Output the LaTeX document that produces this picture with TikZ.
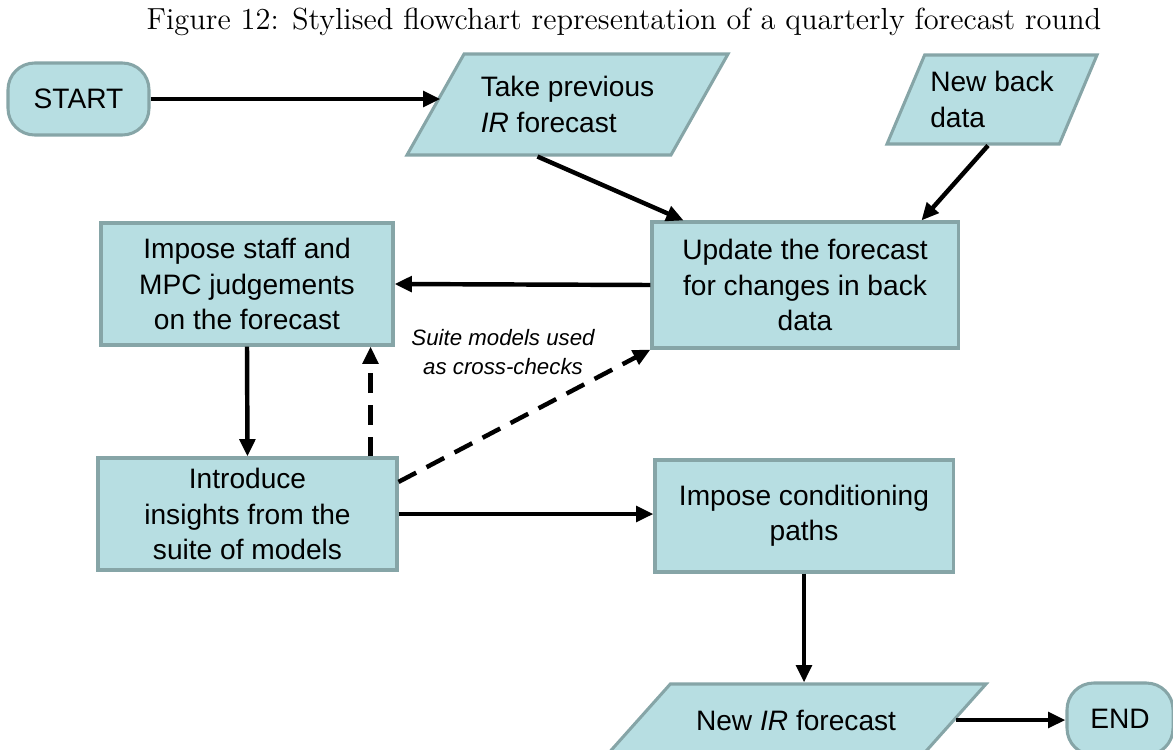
\documentclass[tikz,border=0pt]{standalone}
\usepackage{fontspec}
\newfontfamily\boxfont{Liberation Sans}
\usetikzlibrary{shapes.geometric,arrows.meta}
\definecolor{boxfill}{RGB}{183,222,226}
\definecolor{boxline}{RGB}{134,165,167}
\begin{document}
\begin{tikzpicture}[x = .015cm, y = -.015cm,
    box/.style = {draw = boxline, fill = boxfill, line width = 1.3pt, align = center,
      font = \boxfont\fontsize{12}{15}\selectfont, inner sep = 2pt},
    endbox/.style = {box, rounded corners = .4cm, minimum width = #1, minimum height = 1.08cm},
    para/.style = {box, trapezium, trapezium stretches body = true, align = left,
      trapezium left angle = #1, trapezium right angle = 180-#1},
    arr/.style = {-{Triangle[length = .26cm, width = .23cm]}, line width = 1.9pt},
    dasharr/.style = {arr, dash pattern = on 8.5pt off 5pt}]
    \useasboundingbox (0,0) rectangle (1173,749);
    \node (title) at (624,22) {\fontsize{13}{15}\selectfont Figure 12: Stylised flowchart representation of a quarterly forecast round};
    % top row
    \node [endbox = 2.115cm] (start) at (78.5,99) {START};
    \node [para = 48.8, minimum width = 4.815cm, minimum height = 1.515cm] (take) at (567.5,104.5) {Take previous\\\textit{IR} forecast};
    \node [para = 60, minimum width = 3.15cm, minimum height = 1.335cm] (back) at (992,99.5) {New back\\data};
    % middle
    \node [box, minimum width = 4.38cm, minimum height = 1.83cm] (imp) at (247,284) {Impose staff and\\MPC judgements\\on the forecast};
    \node [box, minimum width = 4.59cm, minimum height = 1.89cm] (upd) at (805,285) {Update the forecast\\for changes in back\\data};
    \node [box, minimum width = 4.485cm, minimum height = 1.68cm] (intro) at (247.5,514) {Introduce\\insights from the\\suite of models};
    \node [box, minimum width = 4.47cm, minimum height = 1.68cm] (cond) at (804,516) {Impose conditioning\\paths};
    \node [font = \boxfont\itshape\fontsize{9.5}{12}\selectfont, align = center] (lbl) at (503,352) {Suite models used\\as cross-checks};
    % bottom
    \node [para = 25, minimum width = 5.7cm, minimum height = 1.08cm] (newir) at (796,720) {New \textit{IR} forecast};
    \node [endbox = 1.59cm] (end) at (1120,719) {END};
    % connectors
    \draw [arr, shorten > = -.1cm] (start) -- (start -| take.west);
    \draw [arr] (take.240) -- (upd.152);
    \draw [arr] (back.265) -- (upd.29);
    \draw [arr] (upd.west) -- (imp.east);
    \draw [arr] (imp.south) -- (intro.north);
    \draw [dasharr] ([xshift = -.42cm]intro.north east) -- ([xshift = -.42cm]intro.north east |- imp.south);
    \draw [dasharr] (intro.12) -- (upd.south west);
    \draw [arr] (intro.east) -- (intro.east -| cond.west);
    \draw [arr] (cond.south) -- (cond.south |- newir.north);
    \draw [arr] (newir.east) -- (newir.east -| end.west);
\end{tikzpicture}
\end{document}
